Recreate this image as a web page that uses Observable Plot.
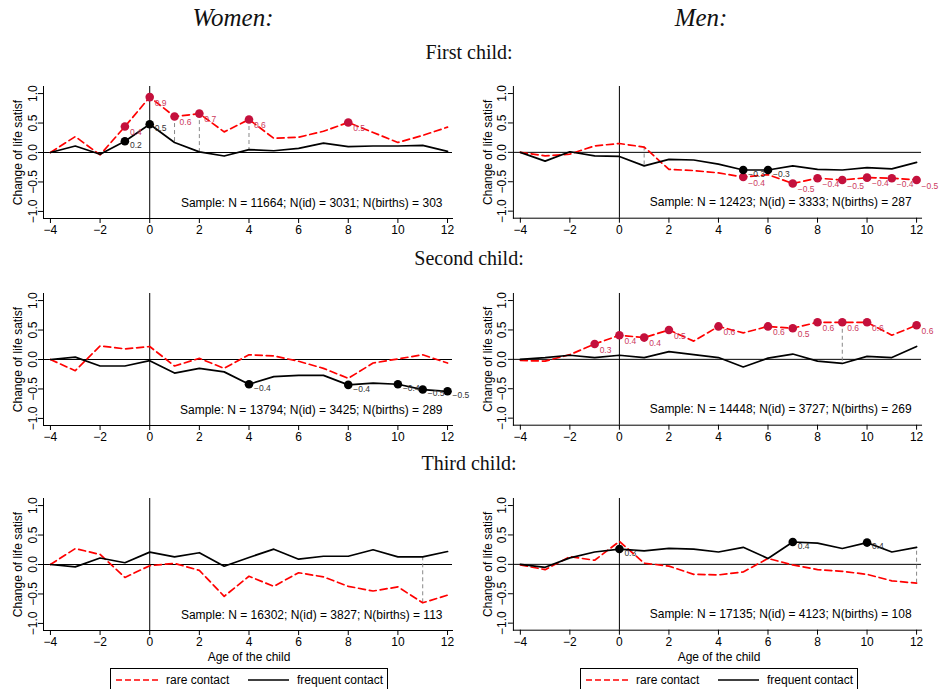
<!DOCTYPE html>
<html><head><meta charset="utf-8">
<script src="https://cdn.jsdelivr.net/npm/d3@7"></script>
<script src="https://cdn.jsdelivr.net/npm/@observablehq/plot@0.6"></script>
<style>
body{margin:0;background:#fff;}
#chart{position:relative;width:939px;height:689px;overflow:hidden;background:#fff;font-family:"Liberation Sans",Arial,sans-serif;}
.t{position:absolute;transform:translate(-50%,-50%);white-space:nowrap;font-family:"Liberation Serif","Times New Roman",serif;color:#111;}
.p{position:absolute;}
.xl{position:absolute;transform:translate(-50%,-50%);font-size:12px;line-height:12px;white-space:nowrap;}
.lg{position:absolute;height:26px;width:278px;border:1px solid #000;box-sizing:border-box;}
</style></head><body><div id="chart"></div>
<script>
const ages = [-4,-3,-2,-1,0,1,2,3,4,5,6,7,8,9,10,11,12];
const xTicks = [-4,-2,0,2,4,6,8,10,12];
const yTicks = [-1,-0.5,0,0.5,1];

// Women, first child
const women1Rare = [0,0.27,-0.04,0.44,0.94,0.61,0.66,0.35,0.56,0.24,0.26,0.36,0.51,0.34,0.17,0.29,0.43];
const women1Freq = [0,0.11,-0.03,0.19,0.48,0.17,0.01,-0.06,0.05,0.03,0.07,0.16,0.10,0.11,0.11,0.12,0.02];
const women1RareSig = [-1,0,1,2,4,8];
const women1FreqSig = [-1,0];
const women1Diff = [1,2,4];
// Men, first child
const men1Rare = [0,-0.06,-0.03,0.11,0.15,0.09,-0.29,-0.31,-0.35,-0.42,-0.38,-0.53,-0.44,-0.47,-0.43,-0.44,-0.47];
const men1Freq = [0,-0.15,0.01,-0.06,-0.07,-0.23,-0.12,-0.13,-0.20,-0.30,-0.30,-0.23,-0.29,-0.30,-0.26,-0.28,-0.17];
const men1RareSig = [5,7,8,9,10,11,12];
const men1FreqSig = [5,6];
const men1Diff = [1];
// Women, second child
const women2Rare = [0,-0.19,0.23,0.18,0.22,-0.11,0.02,-0.15,0.08,0.06,-0.03,-0.15,-0.32,-0.06,0.01,0.08,-0.06];
const women2Freq = [0,0.04,-0.11,-0.11,-0.02,-0.23,-0.15,-0.21,-0.42,-0.29,-0.27,-0.27,-0.43,-0.40,-0.42,-0.51,-0.54];
const women2RareSig = [];
const women2FreqSig = [4,8,10,11,12];
const women2Diff = [];
// Men, second child
const men2Rare = [-0.02,-0.03,0.08,0.26,0.41,0.37,0.50,0.31,0.56,0.45,0.56,0.53,0.63,0.63,0.63,0.41,0.58];
const men2Freq = [0,0.03,0.07,0.03,0.07,0.03,0.13,0.08,0.03,-0.13,0.02,0.09,-0.03,-0.07,0.05,0.03,0.22];
const men2RareSig = [-1,0,1,2,4,6,7,8,9,10,12];
const men2FreqSig = [];
const men2Diff = [9];
// Women, third child
const women3Rare = [0,0.27,0.17,-0.22,-0.02,0.02,-0.10,-0.54,-0.20,-0.37,-0.14,-0.21,-0.37,-0.45,-0.38,-0.65,-0.52];
const women3Freq = [0,-0.04,0.11,0.03,0.21,0.13,0.20,-0.03,0.12,0.26,0.09,0.14,0.14,0.25,0.13,0.13,0.22];
const women3RareSig = [];
const women3FreqSig = [];
const women3Diff = [11];
// Men, third child
const men3Rare = [-0.01,-0.09,0.13,0.07,0.39,0.02,-0.03,-0.17,-0.18,-0.13,0.10,-0.01,-0.09,-0.12,-0.17,-0.28,-0.32];
const men3Freq = [0,-0.05,0.11,0.21,0.26,0.23,0.27,0.26,0.21,0.29,0.10,0.38,0.36,0.27,0.37,0.21,0.29];
const men3RareSig = [];
const men3FreqSig = [0,7,10];
const men3Diff = [12];

const samples = [
  "Sample: N = 11664; N(id) = 3031; N(births) = 303",
  "Sample: N = 12423; N(id) = 3333; N(births) = 287",
  "Sample: N = 13794; N(id) = 3425; N(births) = 289",
  "Sample: N = 14448; N(id) = 3727; N(births) = 269",
  "Sample: N = 16302; N(id) = 3827; N(births) = 113",
  "Sample: N = 17135; N(id) = 4123; N(births) = 108"
];
const colTitles = ["Women:", "Men:"];
const rowTitles = ["First child:", "Second child:", "Third child:"];
const xLabel = "Age of the child";
const yLabel = "Change of life satisf";
const legendLabels = ["rare contact", "frequent contact"];

const panels = [
  {rare: women1Rare, freq: women1Freq, rs: women1RareSig, fs: women1FreqSig, diff: women1Diff, sample: samples[0], col: 0, row: 0},
  {rare: men1Rare, freq: men1Freq, rs: men1RareSig, fs: men1FreqSig, diff: men1Diff, sample: samples[1], col: 1, row: 0},
  {rare: women2Rare, freq: women2Freq, rs: women2RareSig, fs: women2FreqSig, diff: women2Diff, sample: samples[2], col: 0, row: 1},
  {rare: men2Rare, freq: men2Freq, rs: men2RareSig, fs: men2FreqSig, diff: men2Diff, sample: samples[3], col: 1, row: 1},
  {rare: women3Rare, freq: women3Freq, rs: women3RareSig, fs: women3FreqSig, diff: women3Diff, sample: samples[4], col: 0, row: 2},
  {rare: men3Rare, freq: men3Freq, rs: men3RareSig, fs: men3FreqSig, diff: men3Diff, sample: samples[5], col: 1, row: 2}
];

const RED = "#ff0000", DOTRED = "#c4103c", LABRED = "#cc3a5e";
const fmt = d3.format(".1f");
const colLeft = [0, 470];
const rowTop = [80, 287, 492];

function makePanel(p) {
  const rows = ages.map((a, i) => ({age: a, rare: p.rare[i], freq: p.freq[i]}));
  const rareSig = rows.filter(d => p.rs.includes(d.age));
  const freqSig = rows.filter(d => p.fs.includes(d.age));
  const diffRows = rows.filter(d => p.diff.includes(d.age));
  return Plot.plot({
    width: 470, height: 160,
    marginLeft: 43, marginRight: 18, marginTop: 6, marginBottom: 22,
    style: {fontFamily: "'Liberation Sans', Arial, sans-serif", fontSize: "12px", color: "#000", background: "transparent", overflow: "visible"},
    x: {domain: [-4.28, 12.2]},
    y: {domain: [-1.12, 1.12]},
    marks: [
      Plot.ruleY([0], {stroke: "#000", strokeWidth: 1}),
      Plot.ruleX([0], {stroke: "#000", strokeWidth: 1}),
      Plot.frame({anchor: "left", stroke: "#000"}),
      Plot.frame({anchor: "bottom", stroke: "#000"}),
      Plot.axisX({ticks: xTicks, tickSize: 5, tickPadding: 2, tickFormat: d3.format("d"), label: null, fontSize: 12}),
      Plot.axisY({ticks: yTicks, tickSize: 5, tickPadding: 2, tickRotate: -90, tickFormat: fmt, label: yLabel, labelAnchor: "center", labelArrow: "none", labelOffset: 30, fontSize: 12}),
      Plot.ruleX(diffRows, {x: "age", y1: "rare", y2: "freq", stroke: "#888", strokeWidth: 1, strokeDasharray: "4,3"}),
      Plot.line(rows, {x: "age", y: "rare", stroke: RED, strokeWidth: 1.7, strokeDasharray: "7,4"}),
      Plot.line(rows, {x: "age", y: "freq", stroke: "#000", strokeWidth: 1.7}),
      Plot.dot(rareSig, {x: "age", y: "rare", r: 4.3, fill: DOTRED, stroke: "none"}),
      Plot.dot(freqSig, {x: "age", y: "freq", r: 4.3, fill: "#000", stroke: "none"}),
      Plot.text(rareSig, {x: "age", y: "rare", text: d => fmt(d.rare), dx: 5, dy: 6, textAnchor: "start", fill: LABRED, fontSize: 8.5}),
      Plot.text(freqSig, {x: "age", y: "freq", text: d => fmt(d.freq), dx: 5, dy: 4, textAnchor: "start", fill: "#333", fontSize: 8.5}),
      Plot.text([p.sample], {text: d => d, frameAnchor: "bottom-right", dx: -10, dy: -12, textAnchor: "end", fontSize: 12, fill: "#000"})
    ]
  });
}

const chart = document.getElementById("chart");
function addDiv(cls, text, x, y, style) {
  const d = document.createElement("div");
  d.className = cls; d.textContent = text;
  d.style.left = x + "px"; d.style.top = y + "px";
  Object.assign(d.style, style || {});
  chart.appendChild(d);
  return d;
}
addDiv("t", colTitles[0], 233, 18, {fontStyle: "italic", fontSize: "25px"});
addDiv("t", colTitles[1], 701, 18, {fontStyle: "italic", fontSize: "25px"});
addDiv("t", rowTitles[0], 469, 52, {fontSize: "20px"});
addDiv("t", rowTitles[1], 469, 258, {fontSize: "20px"});
addDiv("t", rowTitles[2], 469, 463, {fontSize: "20px"});

for (const p of panels) {
  const svg = makePanel(p);
  const wrap = document.createElement("div");
  wrap.className = "p";
  wrap.style.left = colLeft[p.col] + "px";
  wrap.style.top = rowTop[p.row] + "px";
  wrap.appendChild(svg);
  chart.appendChild(wrap);
}
for (const c of [0, 1]) {
  addDiv("xl", xLabel, colLeft[c] + 249, 657);
  const lg = document.createElement("div");
  lg.className = "lg";
  lg.style.left = (colLeft[c] + 110) + "px";
  lg.style.top = "668px";
  const ns = "http://www.w3.org/2000/svg";
  const s = document.createElementNS(ns, "svg");
  s.setAttribute("width", 278); s.setAttribute("height", 26);
  s.style.position = "absolute"; s.style.left = "-1px"; s.style.top = "-1px";
  const items = [
    {x1: 6, x2: 48, tx: 56, stroke: RED, dash: "6,3", label: legendLabels[0]},
    {x1: 138, x2: 179, tx: 187, stroke: "#000", dash: null, label: legendLabels[1]}
  ];
  for (const it of items) {
    const l = document.createElementNS(ns, "line");
    l.setAttribute("x1", it.x1); l.setAttribute("x2", it.x2);
    l.setAttribute("y1", 12); l.setAttribute("y2", 12);
    l.setAttribute("stroke", it.stroke); l.setAttribute("stroke-width", 1.6);
    if (it.dash) l.setAttribute("stroke-dasharray", it.dash);
    s.appendChild(l);
    const t = document.createElementNS(ns, "text");
    t.setAttribute("x", it.tx); t.setAttribute("y", 16);
    t.setAttribute("font-size", 12);
    t.setAttribute("font-family", "'Liberation Sans', Arial, sans-serif");
    t.textContent = it.label;
    s.appendChild(t);
  }
  lg.appendChild(s);
  chart.appendChild(lg);
}
</script>
</body></html>
